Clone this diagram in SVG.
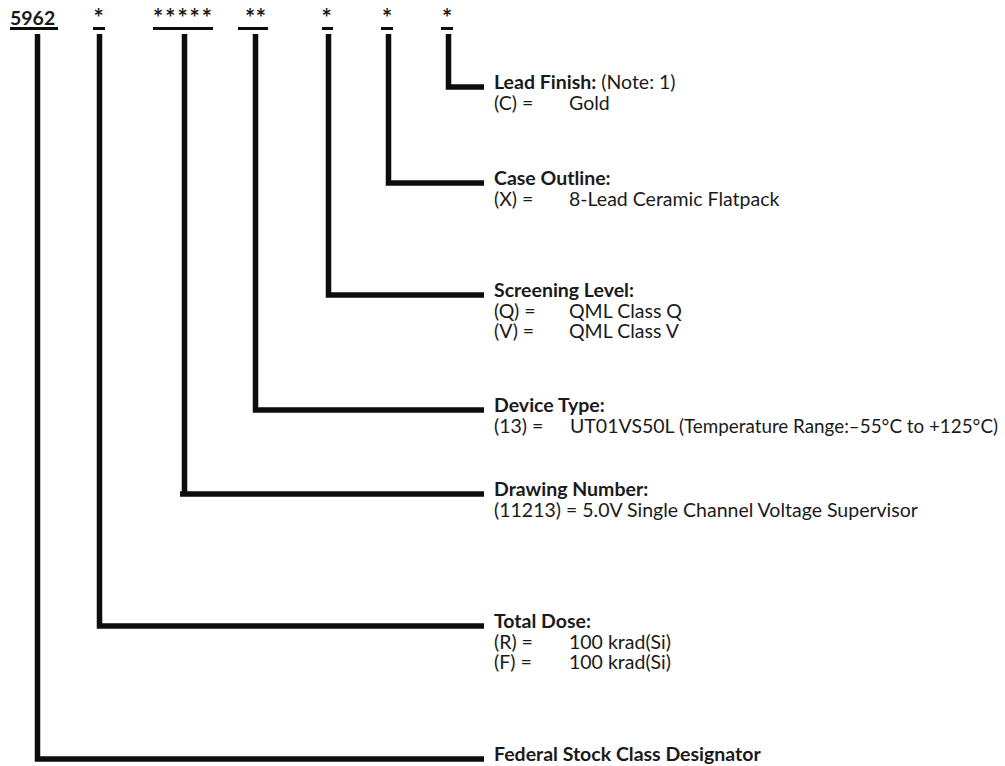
<svg xmlns="http://www.w3.org/2000/svg" width="1005" height="766" viewBox="0 0 1005 766">
<style>
.t{font-family:Lato,"Liberation Sans",sans-serif;font-size:19.5px;fill:#1a1a1a}
.b{font-weight:bold}
.s{font-family:Lato,"Liberation Sans",sans-serif;font-size:24px;font-weight:bold;fill:#1a1a1a}
.c{fill:none;stroke:#0d0d0d;stroke-width:5.5;stroke-linejoin:miter;stroke-linecap:butt}
.u{fill:#0d0d0d}
</style>
<rect width="1005" height="766" fill="#fff"/>
<g id="header">
<text class="t b" x="10" y="25" font-size="22">5962</text>
<rect class="u" x="10" y="27" width="48" height="3"/>
<text class="s" x="98.5" y="27" text-anchor="middle">*</text>
<rect class="u" x="93" y="27" width="12" height="3"/>
<text class="s" x="153" y="27" textLength="59">*****</text>
<rect class="u" x="153" y="27" width="60" height="3"/>
<text class="s" x="245" y="27" textLength="21">**</text>
<rect class="u" x="238" y="27" width="30" height="3"/>
<text class="s" x="326.5" y="27" text-anchor="middle">*</text>
<rect class="u" x="322" y="27" width="11" height="3"/>
<text class="s" x="387" y="27" text-anchor="middle">*</text>
<rect class="u" x="381" y="27" width="12" height="3"/>
<text class="s" x="447" y="27" text-anchor="middle">*</text>
<rect class="u" x="441" y="27" width="12" height="3"/>
</g>
<g id="connectors">
<path class="c" d="M37.5,34 V759 H484"/>
<path class="c" d="M99.5,34 V626 H484"/>
<path class="c" d="M184.5,34 V494 H484 M180,494 H186"/>
<path class="c" d="M255.5,34 V410 H484"/>
<path class="c" d="M328.5,34 V295 H484"/>
<path class="c" d="M388.5,34 V183 H484"/>
<path class="c" d="M448.5,34 V87 H484"/>
</g>
<g id="lead-finish">
<text class="t" x="494" y="89"><tspan class="b">Lead Finish:</tspan> (Note: 1)</text>
<text class="t" x="494" y="110">(C) =</text>
<text class="t" x="569" y="110">Gold</text>
</g>
<g id="case-outline">
<text class="t b" x="494" y="185">Case Outline:</text>
<text class="t" x="494" y="206">(X) =</text>
<text class="t" x="569" y="206">8-Lead Ceramic Flatpack</text>
</g>
<g id="screening-level">
<text class="t b" x="494" y="297">Screening Level:</text>
<text class="t" x="494" y="318">(Q) =</text>
<text class="t" x="569" y="318">QML Class Q</text>
<text class="t" x="494" y="338">(V) =</text>
<text class="t" x="569" y="338">QML Class V</text>
</g>
<g id="device-type">
<text class="t b" x="494" y="412">Device Type:</text>
<text class="t" x="494" y="433">(13) =</text>
<text class="t" x="570" y="433" font-size="18.5">UT01VS50L</text>
<text class="t" x="679" y="433" font-size="18" textLength="319" lengthAdjust="spacingAndGlyphs">(Temperature Range:–55°C to +125°C)</text>
</g>
<g id="drawing-number">
<text class="t b" x="494" y="496">Drawing Number:</text>
<text class="t" x="494" y="517">(11213) = 5.0V Single Channel Voltage Supervisor</text>
</g>
<g id="total-dose">
<text class="t b" x="494" y="628">Total Dose:</text>
<text class="t" x="494" y="649">(R) =</text>
<text class="t" x="569" y="649">100 krad(Si)</text>
<text class="t" x="494" y="669">(F) =</text>
<text class="t" x="569" y="669">100 krad(Si)</text>
</g>
<g id="federal-stock">
<text class="t b" x="494" y="761">Federal Stock Class Designator</text>
</g>
</svg>
